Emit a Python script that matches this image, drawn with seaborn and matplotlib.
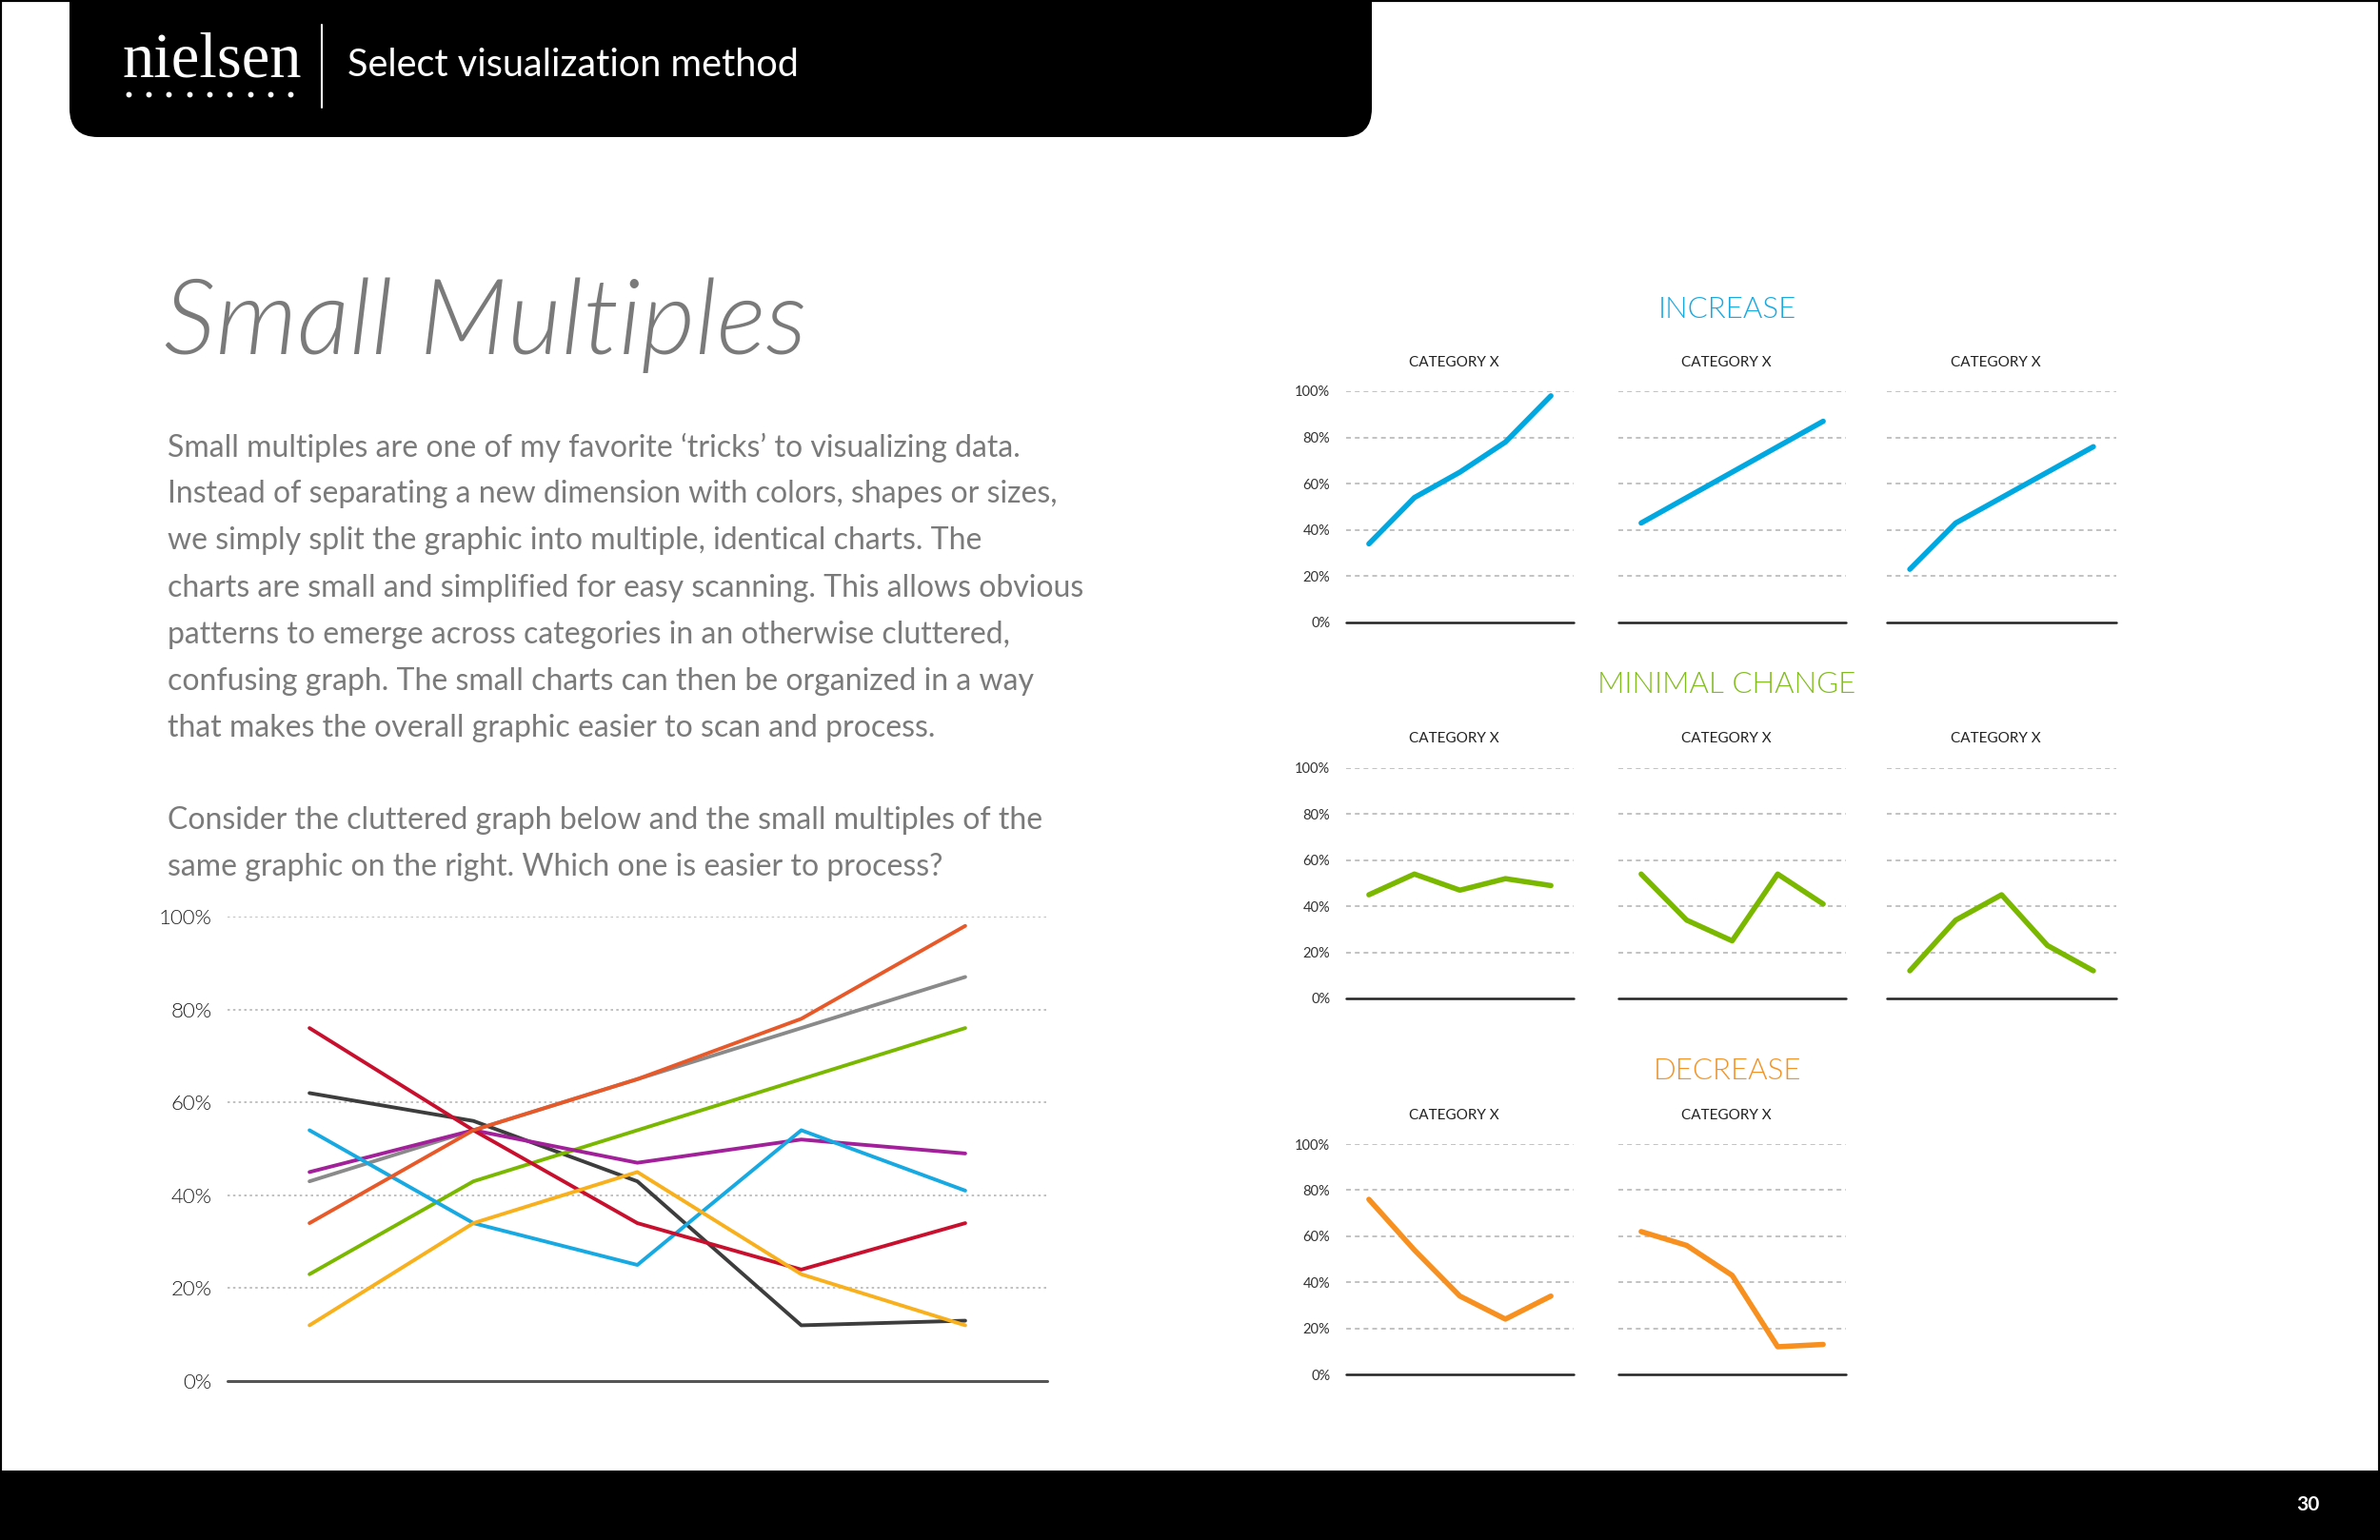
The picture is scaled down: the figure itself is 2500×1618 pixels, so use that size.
import numpy as np
import pandas as pd
import seaborn as sns
import matplotlib.pyplot as plt
from matplotlib.patches import FancyBboxPatch, Rectangle
from matplotlib.lines import Line2D

#======================================================================================
# Data
points = [0, 1, 2, 3, 4]

s_orange  = [34, 54, 65, 78, 98]
s_gray    = [43, 54, 65, 76, 87]
s_green   = [23, 43, 54, 65, 76]
s_magenta = [45, 54, 47, 52, 49]
s_cyan    = [54, 34, 25, 54, 41]
s_crimson = [76, 54, 34, 24, 34]
s_dark    = [62, 56, 43, 12, 13]
s_yellow  = [12, 34, 45, 23, 12]

series_names  = ['gray', 'dark', 'green', 'magenta', 'cyan', 'crimson', 'yellow', 'orange']
series_values = [s_gray, s_dark, s_green, s_magenta, s_cyan, s_crimson, s_yellow, s_orange]
series_colors = ['#8a8a8a', '#3d3d3d', '#7ab800', '#a3209b', '#17a9e1', '#c8102e', '#f8b01c', '#e8592a']

increase_panels = [s_orange, s_gray, s_green]
minimal_panels  = [s_magenta, s_cyan, s_yellow]
decrease_panels = [s_crimson, s_dark]

y_ticks  = [0, 20, 40, 60, 80, 100]
y_labels = ['0%', '20%', '40%', '60%', '80%', '100%']

body_lines = ["Small multiples are one of my favorite \u2018tricks\u2019 to visualizing data.",
              "Instead of separating a new dimension with colors, shapes or sizes,",
              "we simply split the graphic into multiple, identical charts. The",
              "charts are small and simplified for easy scanning. This allows obvious",
              "patterns to emerge across categories in an otherwise cluttered,",
              "confusing graph. The small charts can then be organized in a way",
              "that makes the overall graphic easier to scan and process."]
body_lines2 = ["Consider the cluttered graph below and the small multiples of the",
               "same graphic on the right. Which one is easier to process?"]

#======================================================================================
# Setup
sns.set_theme(style='white')
plt.rcParams['font.family'] = ['Lato', 'DejaVu Sans']

W, H = 2500, 1618
fig = plt.figure(figsize=(25, 16.18), dpi=100)
fig.patch.set_facecolor('white')

def box(x0, y0, x1, y1):
    return [x0 / W, 1 - y1 / H, (x1 - x0) / W, (y1 - y0) / H]

def fx(x):
    return x / W

def fy(y):
    return 1 - y / H

#======================================================================================
# Header / footer decoration
hdr = FancyBboxPatch((fx(73), fy(144)), fx(1441) - fx(73), fy(-40) - fy(144),
                     boxstyle='round,pad=0,rounding_size=0.012', transform=fig.transFigure,
                     facecolor='black', edgecolor='none', zorder=1, mutation_aspect=W / H)
fig.add_artist(hdr)
fig.add_artist(Rectangle((0, 0), 1, fy(1545), transform=fig.transFigure,
                         facecolor='black', edgecolor='none', zorder=1))
fig.add_artist(Rectangle((0, 0), 1, 1, transform=fig.transFigure, fill=False,
                         edgecolor='black', lw=3, zorder=2))

fig.text(fx(128), fy(64), 'nielsen', family=['Liberation Serif', 'DejaVu Serif'],
         fontsize=48, color='white', va='center', ha='left', zorder=5)
fig.add_artist(Line2D([fx(x) for x in np.linspace(135, 305, 9)], [fy(99)] * 9,
                      transform=fig.transFigure, ls='none', marker='o', ms=3.2,
                      color='white', zorder=5))
fig.add_artist(Line2D([fx(338), fx(338)], [fy(26), fy(113)], transform=fig.transFigure,
                      color='white', lw=1.5, zorder=5))
fig.text(fx(365), fy(68), 'Select visualization method', fontsize=28.5, color='white',
         va='center', ha='left', zorder=5)
fig.text(fx(2424), fy(1581), '30', fontsize=15, color='white', fontweight='bold',
         va='center', ha='center', zorder=5)

#======================================================================================
# Left text
fig.text(fx(172), fy(372), 'Small Multiples', fontsize=79, color='#7a7a7a',
         fontweight=300, style='italic', va='baseline', ha='left')
for i, line in enumerate(body_lines):
    fig.text(fx(176), fy(470 + i * 49.2), line, fontsize=23, color='#7a7a7a',
             va='center', ha='left')
for i, line in enumerate(body_lines2):
    fig.text(fx(176), fy(862 + i * 49.2), line, fontsize=23, color='#7a7a7a',
             va='center', ha='left')

#======================================================================================
# Main cluttered chart
rows = []
for name, vals in zip(series_names, series_values):
    for p, v in zip(points, vals):
        rows.append({'point': p, 'value': v, 'series': name})
main_df = pd.DataFrame(rows)

ax = fig.add_axes(box(239, 963, 1100, 1451))
sns.lineplot(data=main_df, x='point', y='value', hue='series', hue_order=series_names,
             palette=dict(zip(series_names, series_colors)), legend=False, lw=2.8, ax=ax)
for ln in ax.lines:
    ln.set_clip_on(False)
ax.set_xlim(-0.5, 4.5)
ax.set_ylim(0, 100)
ax.set_yticks(y_ticks)
ax.set_yticklabels(y_labels, fontsize=16, color='#1e1e1e', fontweight=300)
ax.set_xticks([])
ax.set_xlabel('')
ax.set_ylabel('')
ax.tick_params(axis='y', length=0, pad=12)
for sp in ax.spines.values():
    sp.set_visible(False)
for t in y_ticks[1:]:
    ax.axhline(t, color='#b5b5b5', lw=1.2, ls=(0, (1.5, 2)), zorder=0)
ax.axhline(0, color='#555555', lw=2.2, zorder=0, clip_on=False)
ax.set_facecolor('none')

#======================================================================================
# Small multiples
col_x = [(1414, 1653), (1700, 1939), (1982, 2223)]
sections = [('INCREASE', '#1ba9e0', '#00a8e1', increase_panels, 411, 654, 325, 381),
            ('MINIMAL CHANGE', '#82bc1e', '#7ab800', minimal_panels, 807, 1049, 719, 776),
            ('DECREASE', '#f39325', '#f7901e', decrease_panels, 1202, 1444, 1126, 1172)]

for title, tcolor, lcolor, panels, ytop, ybot, ytitle, ycat in sections:
    fig.text(fx(1814), fy(ytitle), title, fontsize=22.5, color=tcolor, fontweight=300,
             ha='center', va='center')
    for j, vals in enumerate(panels):
        x0, x1 = col_x[j]
        sax = fig.add_axes(box(x0, ytop, x1, ybot))
        sns.lineplot(x=points, y=vals, color=lcolor, lw=4, ax=sax)
        for ln in sax.lines:
            ln.set_clip_on(False)
            ln.set_solid_capstyle('round')
        sax.set_xlim(-0.5, 4.5)
        sax.set_ylim(0, 100)
        sax.set_xticks([])
        sax.set_yticks(y_ticks)
        if j == 0:
            sax.set_yticklabels(y_labels, fontsize=10.5, color='#333333')
        else:
            sax.set_yticklabels([])
        sax.tick_params(axis='y', length=0, pad=12)
        for sp in sax.spines.values():
            sp.set_visible(False)
        for t in y_ticks[1:]:
            sax.axhline(t, color='#b8b8b8', lw=1.2, ls=(0, (3, 2.5)), zorder=0)
        sax.axhline(0, color='#222222', lw=1.8, zorder=0, clip_on=False)
        sax.set_facecolor('none')
        fig.text(fx((x0 + x1) / 2 - 6), fy(ycat), 'CATEGORY X', fontsize=11, color='#222222',
                 ha='center', va='center')

fig.savefig('out.png', dpi=100, facecolor='white')
